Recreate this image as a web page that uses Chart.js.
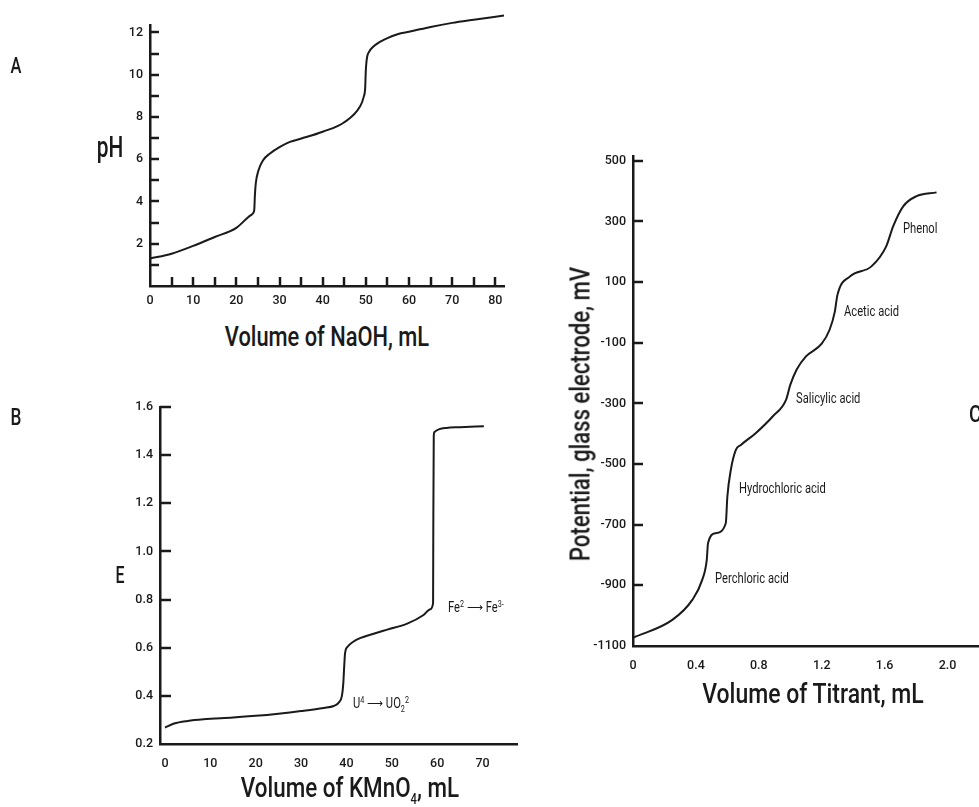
<!DOCTYPE html>
<html>
<head>
<meta charset="utf-8">
<script src="https://cdn.jsdelivr.net/npm/chart.js@4/dist/chart.umd.min.js"></script>
<style>
  body { margin: 0; background: #fff; }
  #page { position: relative; width: 979px; height: 807px; overflow: hidden; background: #fff;
          font-family: Roboto, "Liberation Sans", Arial, sans-serif; font-weight: 500; color: #1a1a1a; }
  canvas { position: absolute; }
  .t { position: absolute; white-space: nowrap; line-height: 1; }
  .c { transform: translate(-50%, -50%) scaleX(0.8); }
  .l { transform: translate(0, -50%) scaleX(0.8); transform-origin: 0 50%; }
  .note { font-size: 14px; font-weight: 400; }
  sup, sub { font-size: 9px; }
</style>
</head>
<body>
<div id="page">
  <canvas id="chartA" width="520" height="320" style="left:0;top:0"></canvas>
  <canvas id="chartB" width="530" height="390" style="left:0;top:390px"></canvas>
  <canvas id="chartC" width="439" height="540" style="left:540px;top:140px"></canvas>

  <div class="t c" style="left:16px;top:66px;font-size:22px;transform:translate(-50%,-50%) scaleX(0.75)">A</div>
  <div class="t c" style="left:110px;top:147px;font-size:29px;transform:translate(-50%,-50%) scaleX(0.72)">pH</div>
  <div class="t c" style="left:327px;top:337px;font-size:28px;transform:translate(-50%,-50%) scaleX(0.78)">Volume of NaOH, mL</div>

  <div class="t c" style="left:16px;top:417px;font-size:23px;transform:translate(-50%,-50%) scaleX(0.75)">B</div>
  <div class="t c" style="left:120px;top:575px;font-size:23px;transform:translate(-50%,-50%) scaleX(0.7)">E</div>
  <div class="t c" style="left:350px;top:790px;font-size:28px">Volume of KMnO<sub style="font-size:14px">4</sub>, mL</div>
  <div class="t l note" style="left:353px;top:705px">U<sup>4</sup> ⟶ UO<sub>2</sub><sup>2</sup></div>
  <div class="t l note" style="left:448px;top:607px">Fe<sup>2</sup> ⟶ Fe<sup>3-</sup></div>

  <div class="t l" style="left:969px;top:414px;font-size:24px">C</div>
  <div class="t c" style="left:581px;top:414px;font-size:27px;transform:translate(-50%,-50%) rotate(-90deg) scaleX(0.82)">Potential, glass electrode, mV</div>
  <div class="t c" style="left:813px;top:694px;font-size:28px;transform:translate(-50%,-50%) scaleX(0.82)">Volume of Titrant, mL</div>
  <div class="t l note" style="left:903px;top:228px">Phenol</div>
  <div class="t l note" style="left:844px;top:311px">Acetic acid</div>
  <div class="t l note" style="left:796px;top:398px">Salicylic acid</div>
  <div class="t l note" style="left:739px;top:488px">Hydrochloric acid</div>
  <div class="t l note" style="left:715px;top:578px">Perchloric acid</div>
</div>

<script>
// A: pH vs volume of NaOH
var naohVol = [0, 5, 10, 15, 20, 22.8, 23.9, 24.15, 24.3, 24.5, 25.1, 26.2, 27.8, 30.1, 32.4, 35.1, 40, 45, 48.6, 49.5, 49.85, 49.95, 50.05, 50.3, 50.8, 51.7, 53, 54, 56, 57.9, 60, 65, 70, 75, 82];
var phVals = [1.3, 1.53, 1.9, 2.32, 2.75, 3.27, 3.45, 3.6, 4.3, 4.85, 5.45, 5.95, 6.27, 6.58, 6.82, 6.98, 7.3, 7.75, 8.48, 8.95, 9.4, 10.0, 10.4, 10.85, 11.1, 11.32, 11.52, 11.63, 11.82, 11.95, 12.03, 12.26, 12.45, 12.6, 12.8];
var phTicks = [0, 1, 2, 3, 4, 5, 6, 7, 8, 9, 10, 11, 12];
var naohTicks = [0, 5, 10, 15, 20, 25, 30, 35, 40, 45, 50, 55, 60, 65, 70, 75, 80];

// B: E vs volume of KMnO4
var kmnoVol = [0, 2, 5, 8.5, 15, 20, 25, 30, 35, 37.2, 38.3, 39.0, 39.3, 39.5, 39.7, 40.3, 41.5, 43, 46, 49, 53.4, 57, 58.5, 59.1, 59.15, 59.25, 59.35, 60.5, 62, 65, 70.3];
var eVals = [0.268, 0.285, 0.296, 0.303, 0.31, 0.317, 0.326, 0.337, 0.35, 0.358, 0.372, 0.40, 0.45, 0.52, 0.578, 0.605, 0.625, 0.64, 0.658, 0.675, 0.70, 0.736, 0.76, 0.785, 1.1, 1.48, 1.495, 1.508, 1.513, 1.516, 1.52];
var eTicks = [0.2, 0.4, 0.6, 0.8, 1.0, 1.2, 1.4, 1.6];
var kmnoTicks = [0, 10, 20, 30, 40, 50, 60, 70];

// C: potential vs volume of titrant
var titrVol = [0, 0.25, 0.377, 0.44, 0.469, 0.477, 0.526, 0.59, 0.60, 0.622, 0.654, 0.686, 0.78, 0.888, 0.973, 1.0, 1.04, 1.10, 1.20, 1.25, 1.283, 1.30, 1.38, 1.516, 1.61, 1.654, 1.718, 1.80, 1.93];
var potVals = [-1073, -1014, -948, -882, -816, -761, -728, -695, -607, -519, -453, -437, -398, -343, -288, -239, -189, -145, -103, -57, 2, 58, 119, 152, 218, 284, 350, 383, 396];
var potTicks = [-1100, -900, -700, -500, -300, -100, 100, 300, 500];
var titrTicks = [0, 0.4, 0.8, 1.2, 1.6, 2.0];

var ink = '#1a1a1a';
Chart.defaults.font.family = 'Roboto, "Liberation Sans", Arial, sans-serif';
Chart.defaults.font.size = 12.5;
Chart.defaults.font.weight = '500';
Chart.defaults.color = ink;

// tick marks drawn inward from the axes
var innerTicks = {
  id: 'innerTicks',
  afterDraw: function (chart, args, opts) {
    var ctx = chart.ctx, a = chart.chartArea;
    ctx.save();
    ctx.strokeStyle = ink;
    ctx.lineWidth = 2.5;
    var ys = chart.scales.y, xs = chart.scales.x;
    if (opts.yLen) {
      ys.ticks.forEach(function (t) {
        if (t.value <= ys.min + 1e-9) return;
        var p = Math.round(ys.getPixelForValue(t.value));
        ctx.beginPath(); ctx.moveTo(a.left, p); ctx.lineTo(a.left + opts.yLen, p); ctx.stroke();
      });
    }
    if (opts.xLen) {
      xs.ticks.forEach(function (t) {
        if (t.value <= xs.min + 1e-9) return;
        var p = Math.round(xs.getPixelForValue(t.value));
        ctx.beginPath(); ctx.moveTo(p, a.bottom); ctx.lineTo(p, a.bottom - opts.xLen); ctx.stroke();
      });
    }
    ctx.restore();
  }
};

function pts(xs, ys) {
  return xs.map(function (x, i) { return { x: x, y: ys[i] }; });
}

function makeChart(id, cfg) {
  return new Chart(document.getElementById(id), {
    type: 'line',
    data: {
      datasets: [{
        data: pts(cfg.xData, cfg.yData),
        borderColor: ink,
        borderWidth: 2,
        pointRadius: 0,
        fill: false,
        clip: false,
        cubicInterpolationMode: 'monotone'
      }]
    },
    options: {
      responsive: false,
      animation: false,
      layout: { padding: { top: cfg.padTop, right: cfg.padRight, left: 0, bottom: 0 } },
      plugins: {
        legend: { display: false },
        tooltip: { enabled: false },
        innerTicks: { xLen: cfg.xLen, yLen: cfg.yLen }
      },
      scales: {
        x: {
          type: 'linear',
          min: cfg.xMin, max: cfg.xMax,
          grid: { display: true, drawOnChartArea: false, drawTicks: false },
          border: { display: true, color: ink, width: 2.5 },
          afterBuildTicks: function (s) { s.ticks = cfg.xTicks.map(function (v) { return { value: v }; }); },
          afterFit: function (s) { s.height = cfg.xAxisH; },
          ticks: { padding: cfg.xPad, maxRotation: 0, autoSkip: false, callback: cfg.xLabel }
        },
        y: {
          type: 'linear',
          min: cfg.yMin, max: cfg.yMax,
          grid: { display: true, drawOnChartArea: false, drawTicks: false },
          border: { display: true, color: ink, width: 2.5 },
          afterBuildTicks: function (s) { s.ticks = cfg.yTicks.map(function (v) { return { value: v }; }); },
          afterFit: function (s) { s.width = cfg.yAxisW; },
          ticks: { padding: 7, autoSkip: false, callback: cfg.yLabel }
        }
      }
    },
    plugins: [innerTicks]
  });
}

makeChart('chartA', {
  xData: naohVol, yData: phVals,
  xTicks: naohTicks, yTicks: phTicks,
  xMin: 0, xMax: 82, yMin: 0, yMax: 12.35,
  padTop: 25, padRight: 16, yAxisW: 150, xAxisH: 34, xPad: 7,
  xLen: 9, yLen: 9,
  xLabel: function (v) { return v % 10 === 0 ? v : ''; },
  yLabel: function (v) { return (v > 0 && v % 2 === 0) ? v : ''; }
});

makeChart('chartB', {
  xData: kmnoVol, yData: eVals,
  xTicks: kmnoTicks, yTicks: eTicks,
  xMin: -1.1, xMax: 77.6, yMin: 0.2, yMax: 1.6,
  padTop: 17, padRight: 13, yAxisW: 160, xAxisH: 36, xPad: 12,
  xLen: 0, yLen: 11,
  xLabel: function (v) { return v; },
  yLabel: function (v) { return v.toFixed(1); }
});

makeChart('chartC', {
  xData: titrVol, yData: potVals,
  xTicks: titrTicks, yTicks: potTicks,
  xMin: 0, xMax: 2.2, yMin: -1100, yMax: 516,
  padTop: 16, padRight: 0, yAxisW: 93, xAxisH: 34, xPad: 12,
  xLen: 0, yLen: 10,
  xLabel: function (v) { return v === 0 ? '0' : v.toFixed(1); },
  yLabel: function (v) { return v; }
});
</script>
</body>
</html>
